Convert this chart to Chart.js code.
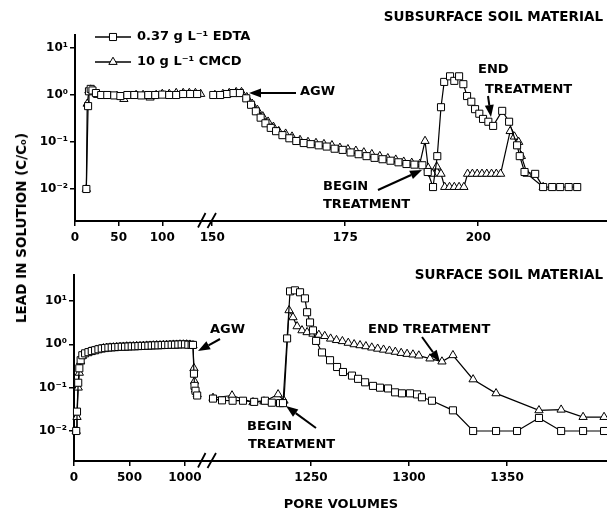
<!DOCTYPE html>
<html>
<head>
<meta charset="utf-8">
<script src="https://cdn.jsdelivr.net/npm/chart.js@4"></script>
<style>
  body { margin: 0; background: #fff; }
  #wrap { position: relative; width: 607px; height: 512px; font-family: "DejaVu Sans", sans-serif; font-weight: bold; color: #000; }
  canvas { position: absolute; left: 0; }
  #top { top: 0; }
  #bottom { top: 250px; }
  .label { position: absolute; font-size: 13px; white-space: nowrap; }
  #ytitle { left: 21px; top: 228px; transform: translate(-50%, -50%) rotate(-90deg); font-size: 13.5px; }
  #xtitle { left: 341px; top: 503px; transform: translate(-50%, -50%); }
</style>
</head>
<body>
<div id="wrap">
  <canvas id="top" width="607" height="250"></canvas>
  <canvas id="bottom" width="607" height="262"></canvas>
  <div class="label" id="ytitle">LEAD IN SOLUTION (C/C₀)</div>
  <div class="label" id="xtitle">PORE VOLUMES</div>
</div>
<script>
// pore volumes, C/Co
var yTickValues = [0.01, 0.1, 1, 10];
var yTickLabels = ["10⁻²", "10⁻¹", "10⁰", "10¹"];

var subLeftTicks = [0, 50, 100];
var subRightTicks = [150, 175, 200];
var surfLeftTicks = [0, 500, 1000];
var surfRightTicks = [1250, 1300, 1350];

// subsurface soil, before the axis break
var subEdtaA = [[13,0.01],[15,0.58],[16,1.2],[18,1.35],[20,1.25],[24,1.1],[30,1.0],[37,1.0],[45,0.98],[52,0.95],[60,1.0],[68,1.0],[76,0.98],[84,1.0],[92,1.0],[100,1.02],[108,1.0],[116,1.0],[124,1.05],[132,1.05],[140,1.05]];
var subCmcdA = [[13,0.01],[14,0.65],[16,1.25],[18,1.3],[21,1.15],[26,1.0],[33,0.95],[40,0.95],[48,0.95],[56,0.82],[63,0.95],[70,1.0],[78,1.0],[86,0.88],[93,1.0],[100,1.05],[108,1.05],[116,1.1],[124,1.1],[131,1.1],[138,1.1],[144,1.05]];
// subsurface soil, after the break
var subEdtaB = [[150.2,1.0],[151.5,1.0],[152.8,1.05],[154,1.1],[155.2,1.1],[156.4,0.85],[157.3,0.62],[158.2,0.45],[159.1,0.33],[160,0.25],[161,0.2],[162,0.17],[163.2,0.14],[164.5,0.12],[165.8,0.105],[167.2,0.095],[168.5,0.09],[170,0.085],[171.5,0.08],[173,0.072],[174.5,0.068],[176,0.06],[177.5,0.055],[179,0.05],[180.5,0.046],[182,0.043],[183.5,0.04],[185,0.037],[186.5,0.034],[188,0.033],[189.5,0.032],[190.5,0.023],[191.5,0.011],[192.3,0.05],[193.0,0.55],[193.6,1.9],[194.7,2.5],[195.5,2.0],[196.4,2.5],[197.2,1.7],[197.9,0.95],[198.7,0.72],[199.4,0.5],[200.2,0.4],[200.9,0.31],[201.9,0.27],[202.8,0.22],[204.5,0.46],[205.8,0.27],[207.3,0.085],[207.8,0.05],[208.7,0.023],[210.7,0.021],[212.2,0.011],[213.9,0.011],[215.4,0.011],[217,0.011],[218.6,0.011]];
var subCmcdB = [[150.5,1.0],[152,1.05],[153.2,1.1],[154.5,1.15],[155.5,1.15],[156.5,0.9],[157.5,0.65],[158.5,0.48],[159.5,0.35],[160.5,0.27],[161.5,0.21],[162.5,0.17],[163.8,0.15],[165,0.13],[166.5,0.11],[168,0.1],[169.5,0.095],[171,0.09],[172.5,0.085],[174,0.075],[175.5,0.07],[177,0.065],[178.5,0.06],[180,0.055],[181.5,0.05],[183,0.045],[184.5,0.042],[186,0.038],[187.5,0.036],[189,0.034],[190,0.105],[190.6,0.028],[191.4,0.021],[192.2,0.03],[193.0,0.021],[193.7,0.011],[194.6,0.011],[195.5,0.011],[196.4,0.011],[197.3,0.011],[198.0,0.021],[198.9,0.021],[199.8,0.021],[200.7,0.021],[201.6,0.021],[202.5,0.021],[203.4,0.021],[204.2,0.021],[206.0,0.17],[206.8,0.13],[207.6,0.1],[208.1,0.05],[209.2,0.021],[212.2,0.011]];

// surface soil, before the axis break
var surfEdtaA = [[20,0.01],[27,0.028],[38,0.13],[48,0.28],[60,0.43],[75,0.56],[100,0.62],[130,0.66],[160,0.7],[190,0.73],[220,0.77],[250,0.8],[280,0.82],[310,0.84],[340,0.85],[370,0.86],[400,0.87],[430,0.88],[460,0.88],[490,0.89],[520,0.9],[550,0.9],[580,0.91],[610,0.92],[640,0.92],[670,0.93],[700,0.94],[730,0.95],[760,0.95],[790,0.96],[820,0.97],[850,0.97],[880,0.98],[910,0.98],[940,0.99],[970,1.0],[1000,1.0],[1030,0.98],[1060,0.97],[1072,0.97],[1081,0.21],[1086,0.11],[1095,0.085],[1110,0.066]];
var surfCmcdA = [[20,0.01],[27,0.021],[38,0.1],[48,0.22],[60,0.4],[75,0.54],[115,0.63],[145,0.68],[175,0.71],[205,0.75],[235,0.78],[265,0.81],[295,0.83],[325,0.84],[355,0.85],[385,0.86],[415,0.87],[445,0.88],[475,0.89],[505,0.89],[535,0.9],[565,0.91],[595,0.91],[625,0.92],[655,0.93],[685,0.93],[715,0.94],[745,0.95],[775,0.95],[805,0.96],[835,0.96],[865,0.97],[895,0.98],[925,0.98],[955,0.99],[985,0.99],[1015,0.99],[1045,0.98],[1072,0.95],[1081,0.28],[1086,0.14],[1095,0.09],[1110,0.07]];
// surface soil, after the break
var surfEdtaB = [[1200,0.056],[1204.6,0.051],[1210,0.05],[1215.3,0.05],[1221,0.047],[1226.5,0.05],[1230,0.045],[1234.2,0.044],[1235.7,0.044],[1237.8,1.37],[1239.3,16.7],[1241.8,17.6],[1244.4,15.9],[1246.9,11.5],[1248,5.5],[1249.5,3.2],[1251,2.1],[1252.6,1.2],[1255.6,0.65],[1259.7,0.43],[1263.3,0.3],[1266.3,0.23],[1270.9,0.19],[1274,0.16],[1277.6,0.133],[1281.6,0.11],[1285.2,0.1],[1289.3,0.096],[1292.9,0.078],[1296.4,0.074],[1300.5,0.074],[1304.1,0.07],[1306.6,0.06],[1311.7,0.05],[1322.4,0.03],[1332.7,0.01],[1344.4,0.01],[1355.1,0.01],[1366.3,0.02],[1377.6,0.01],[1388.8,0.01],[1399.5,0.01]];
var surfCmcdB = [[1200,0.058],[1209.7,0.066],[1220.4,0.046],[1226,0.048],[1233.2,0.07],[1236.2,0.05],[1238.8,6.1],[1240.8,4.2],[1242.9,2.6],[1245.4,2.1],[1248,1.9],[1251,1.75],[1254,1.65],[1257,1.55],[1260,1.35],[1263,1.25],[1266,1.18],[1269,1.08],[1272,1.0],[1275,0.95],[1278,0.9],[1281,0.84],[1284,0.79],[1287,0.75],[1290,0.71],[1293,0.67],[1296,0.63],[1299,0.6],[1302,0.58],[1305,0.55],[1310.7,0.47],[1316.8,0.4],[1322.4,0.56],[1332.7,0.155],[1344.4,0.074],[1366.3,0.03],[1377.6,0.031],[1388.8,0.021],[1399.5,0.021]];

var FONT = '"DejaVu Sans", sans-serif';

function series(points, axis, style) {
    return {
        data: points.map(function (p) { return { x: p[0], y: p[1] }; }),
        xAxisID: axis,
        yAxisID: "y",
        borderColor: "#000",
        borderWidth: 1.2,
        pointStyle: style,
        pointRadius: style == "rect" ? 5 : 4.8,
        pointBackgroundColor: "#fff",
        pointBorderColor: "#000",
        pointBorderWidth: 1,
        tension: 0,
        clip: false,
    };
}

function arrow(ctx, x1, y1, x2, y2) {
    var a = Math.atan2(y2 - y1, x2 - x1);
    var len = 12, half = 4.5;
    var bx = x2 - len * Math.cos(a), by = y2 - len * Math.sin(a);
    ctx.beginPath();
    ctx.moveTo(x1, y1);
    ctx.lineTo(bx, by);
    ctx.lineWidth = 2;
    ctx.stroke();
    ctx.beginPath();
    ctx.moveTo(x2, y2);
    ctx.lineTo(bx + half * Math.sin(a), by - half * Math.cos(a));
    ctx.lineTo(bx - half * Math.sin(a), by + half * Math.cos(a));
    ctx.closePath();
    ctx.fill();
}

// texts, arrows, axis break and (optionally) legend
function notesPlugin(notes) {
    return {
        id: "notes",
        afterDraw: function (chart) {
            var ctx = chart.ctx;
            ctx.save();
            ctx.fillStyle = "#000";
            ctx.strokeStyle = "#000";
            ctx.textBaseline = "middle";
            notes.texts.forEach(function (t) {
                ctx.font = "bold " + (t.size || 13) + "px " + FONT;
                ctx.textAlign = t.align || "left";
                ctx.fillText(t.t, t.x, t.y);
            });
            notes.arrows.forEach(function (a) { arrow(ctx, a[0], a[1], a[2], a[3]); });

            var s = chart.scales.xl;
            var bx = s.right, ay = s.top;
            ctx.lineWidth = 1.8;
            ctx.beginPath();
            ctx.moveTo(bx - 10.5, ay + 6.5); ctx.lineTo(bx - 3, ay - 8);
            ctx.moveTo(bx - 1, ay + 7); ctx.lineTo(bx + 7.5, ay - 8);
            ctx.stroke();

            if (notes.legend) {
                notes.legend.forEach(function (l) {
                    ctx.lineWidth = 1.5;
                    ctx.beginPath();
                    ctx.moveTo(95, l.y); ctx.lineTo(131, l.y);
                    ctx.stroke();
                    ctx.fillStyle = "#fff";
                    ctx.lineWidth = 1;
                    Chart.helpers.drawPoint(ctx, { pointStyle: l.style, radius: l.style == "rect" ? 5 : 4.8, borderWidth: 1 }, 113, l.y);
                    ctx.fillStyle = "#000";
                    ctx.font = "bold 13px " + FONT;
                    ctx.textAlign = "left";
                    ctx.fillText(l.text, 137, l.y);
                });
            }
            ctx.restore();
        },
    };
}

function xScale(min, max, weight, ticks, height) {
    return {
        type: "linear",
        position: "bottom",
        stack: "x",
        stackWeight: weight,
        min: min,
        max: max,
        afterBuildTicks: function (s) { s.ticks = ticks.map(function (v) { return { value: v }; }); },
        afterFit: function (s) {
            s.height = height;
            s.paddingLeft = 0;
            s.paddingRight = 0;
        },
        ticks: {
            color: "#000",
            font: { family: FONT, size: 12, weight: "bold" },
            padding: 5,
            maxRotation: 0,
            callback: function (v) { return String(v); },
        },
        grid: { display: true, drawOnChartArea: false, tickLength: 5, color: "#000", lineWidth: 1.5 },
        border: { color: "#000", width: 2 },
    };
}

function makeChart(id, cfg) {
    return new Chart(document.getElementById(id), {
        type: "line",
        data: {
            datasets: [
                series(cfg.edtaA, "xl", "rect"),
                series(cfg.edtaB, "xr", "rect"),
                series(cfg.cmcdA, "xl", "triangle"),
                series(cfg.cmcdB, "xr", "triangle"),
            ],
        },
        options: {
            responsive: false,
            animation: false,
            events: [],
            layout: { autoPadding: false, padding: { top: cfg.top, left: 0, right: 0, bottom: 0 } },
            plugins: { legend: { display: false }, tooltip: { enabled: false } },
            scales: {
                y: {
                    type: "logarithmic",
                    position: "left",
                    min: cfg.ymin,
                    max: cfg.ymax,
                    afterBuildTicks: function (s) { s.ticks = yTickValues.map(function (v) { return { value: v }; }); },
                    afterFit: function (s) {
                        s.width = cfg.yWidth;
                        s.paddingTop = 0;
                        s.paddingBottom = 0;
                    },
                    ticks: {
                        color: "#000",
                        font: { family: FONT, size: 12, weight: "bold" },
                        padding: 2,
                        callback: function (v) { return yTickLabels[yTickValues.indexOf(v)]; },
                    },
                    grid: { display: true, drawOnChartArea: false, tickLength: 5, color: "#000", lineWidth: 1.5 },
                    border: { color: "#000", width: 2 },
                },
                xl: xScale(cfg.xl[0], cfg.xl[1], cfg.xl[2], cfg.xlTicks, cfg.xHeight),
                xr: xScale(cfg.xr[0], cfg.xr[1], cfg.xr[2], cfg.xrTicks, cfg.xHeight),
            },
        },
        plugins: [notesPlugin(cfg.notes)],
    });
}

makeChart("top", {
    edtaA: subEdtaA, edtaB: subEdtaB, cmcdA: subCmcdA, cmcdB: subCmcdB,
    top: 35, yWidth: 75, xHeight: 29,
    ymin: Math.pow(10, -2.681), ymax: Math.pow(10, 1.277),
    xl: [0, 153, 133.5], xr: [149.3, 224.2, 398.5],
    xlTicks: subLeftTicks, xrTicks: subRightTicks,
    notes: {
        texts: [
            { t: "SUBSURFACE SOIL MATERIAL", x: 603, y: 17, align: "right", size: 13.5 },
            { t: "AGW", x: 300, y: 92 },
            { t: "END", x: 478, y: 70 },
            { t: "TREATMENT", x: 485, y: 90 },
            { t: "BEGIN", x: 323, y: 187 },
            { t: "TREATMENT", x: 323, y: 205 },
        ],
        arrows: [[296, 93, 249, 93], [488, 96, 491, 117], [378, 190, 422, 170]],
        legend: [
            { y: 37, style: "rect", text: "0.37 g L⁻¹ EDTA" },
            { y: 62, style: "triangle", text: "10 g L⁻¹ CMCD" },
        ],
    },
});

makeChart("bottom", {
    edtaA: surfEdtaA, edtaB: surfEdtaB, cmcdA: surfCmcdA, cmcdB: surfCmcdB,
    top: 25, yWidth: 74, xHeight: 51,
    ymin: Math.pow(10, -2.692), ymax: Math.pow(10, 1.6),
    xl: [0, 1212, 134.5], xr: [1197.7, 1401, 398.5],
    xlTicks: surfLeftTicks, xrTicks: surfRightTicks,
    notes: {
        texts: [
            { t: "SURFACE SOIL MATERIAL", x: 603, y: 25, align: "right", size: 13.5 },
            { t: "AGW", x: 210, y: 80 },
            { t: "END TREATMENT", x: 368, y: 80 },
            { t: "BEGIN", x: 247, y: 177 },
            { t: "TREATMENT", x: 248, y: 195 },
        ],
        arrows: [[220, 89, 198, 101], [422, 87, 440, 112], [316, 178, 286, 156]],
    },
});
</script>
</body>
</html>
